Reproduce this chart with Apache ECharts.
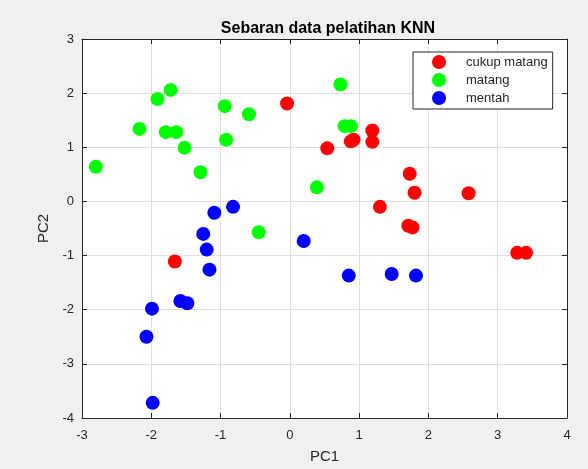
<!DOCTYPE html>
<html><head><meta charset="utf-8">
<script src="https://cdn.jsdelivr.net/npm/echarts@6/dist/echarts.min.js"></script>
<style>html,body{margin:0;padding:0;background:#f0f0f0;}#c{width:588px;height:469px;}</style>
</head><body><div id="c"></div>
<script>
const title = 'Sebaran data pelatihan KNN';
const seriesNames = ['cukup matang', 'matang', 'mentah'];
const xTicks = [-3, -2, -1, 0, 1, 2, 3, 4];
const yTicks = [-4, -3, -2, -1, 0, 1, 2, 3];
const cukupMatang = [
  [-0.04, 1.81], [0.54, 0.98], [0.88, 1.11], [0.92, 1.14], [1.19, 1.31], [1.19, 1.10],
  [1.73, 0.51], [1.80, 0.16], [2.58, 0.15], [1.30, -0.10], [1.71, -0.45], [1.77, -0.48],
  [3.28, -0.95], [3.41, -0.95], [-1.66, -1.11]
];
const matang = [
  [-2.80, 0.64], [-2.17, 1.34], [-1.91, 1.89], [-1.72, 2.06], [-1.79, 1.28], [-1.64, 1.28],
  [-1.52, 0.99], [-1.29, 0.54], [-0.94, 1.76], [-0.92, 1.14], [-0.59, 1.61], [0.39, 0.26],
  [-0.45, -0.57], [0.73, 2.16], [0.79, 1.39], [0.88, 1.39]
];
const mentah = [
  [-0.82, -0.10], [-1.09, -0.21], [-1.25, -0.60], [-1.20, -0.89], [-1.16, -1.26],
  [-1.58, -1.84], [-1.48, -1.88], [-1.99, -1.98], [-2.07, -2.50], [-1.98, -3.72],
  [0.20, -0.73], [0.85, -1.37], [1.47, -1.34], [1.82, -1.37]
];
const colors = ['#ff0000', '#00ff00', '#0000ff'];
const font = '"Liberation Sans", Arial, sans-serif';
const axisCol = '#262626';

const chart = echarts.init(document.getElementById('c'));
const baseAxis = (min, max) => ({
  type: 'value', min: min, max: max, interval: 1,
  axisLine: {show: true, onZero: false, lineStyle: {color: axisCol, width: 1}},
  axisTick: {show: true, inside: true, length: 5, lineStyle: {color: axisCol}},
  splitLine: {show: false},
});
chart.setOption({
  backgroundColor: '#f0f0f0',
  animation: false,
  title: {text: title, left: 323, top: 16, textAlign: 'center',
    textStyle: {fontFamily: font, fontSize: 16, fontWeight: 'bold', color: '#000'}},
  grid: {left: 82, right: 21, top: 39, bottom: 48, show: true, backgroundColor: '#ffffff', borderWidth: 0},
  legend: {
    orient: 'vertical', left: 413, top: 52,
    data: seriesNames, icon: 'circle', itemWidth: 14, itemHeight: 14, itemGap: 4,
    padding: [3, 5, 4, 19],
    backgroundColor: '#ffffff', borderColor: '#262626', borderWidth: 1, borderRadius: 0,
    textStyle: {fontFamily: font, fontSize: 13, color: '#262626', padding: [0, 0, 0, 15]}
  },
  xAxis: [
    Object.assign(baseAxis(xTicks[0], xTicks[xTicks.length - 1]), {
      position: 'bottom',
      name: 'PC1', nameLocation: 'middle', nameGap: 31,
      nameTextStyle: {fontFamily: font, fontSize: 15, color: '#262626'},
      axisLabel: {fontFamily: font, fontSize: 13, color: '#262626', margin: 11},
      splitLine: {show: true, lineStyle: {color: '#dfdfdf', width: 1}}
    }),
    Object.assign(baseAxis(xTicks[0], xTicks[xTicks.length - 1]), {
      position: 'top', axisLabel: {show: false}
    })
  ],
  yAxis: [
    Object.assign(baseAxis(yTicks[0], yTicks[yTicks.length - 1]), {
      position: 'left',
      name: 'PC2', nameLocation: 'middle', nameGap: 28,
      nameTextStyle: {fontFamily: font, fontSize: 15, color: '#262626'},
      axisLabel: {fontFamily: font, fontSize: 13, color: '#262626', margin: 8},
      splitLine: {show: true, lineStyle: {color: '#dfdfdf', width: 1}}
    }),
    Object.assign(baseAxis(yTicks[0], yTicks[yTicks.length - 1]), {
      position: 'right', axisLabel: {show: false}
    })
  ],
  series: [
    {name: seriesNames[0], type: 'scatter', data: cukupMatang, symbolSize: 14, itemStyle: {color: colors[0], opacity: 1}},
    {name: seriesNames[1], type: 'scatter', data: matang, symbolSize: 14, itemStyle: {color: colors[1], opacity: 1}},
    {name: seriesNames[2], type: 'scatter', data: mentah, symbolSize: 14, itemStyle: {color: colors[2], opacity: 1}}
  ]
});
</script></body></html>
